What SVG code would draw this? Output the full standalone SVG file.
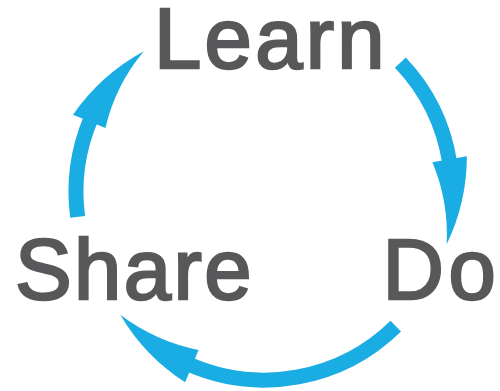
<svg xmlns="http://www.w3.org/2000/svg" width="500" height="391" viewBox="0 0 500 391">
<style>
.lbl{font-family:"Liberation Sans",Arial,Helvetica,sans-serif;font-size:85px;fill:#58585a;stroke:#58585a;stroke-width:2.5;stroke-linejoin:miter}
.shaft{fill:none;stroke:#19ade3;stroke-width:15;stroke-linecap:butt}
.head{fill:#19ade3;stroke:none}
</style>
<rect width="500" height="391" fill="#ffffff"/>
<g id="connectors">
  <g id="share-to-learn">
    <path class="shaft" d="M77.65 216.87 A188 188 0 0 1 90.95 118.54"/>
    <path class="head" d="M73.0 114.83 Q100.87 74.57 143.85 51.32 Q115.48 85.08 105.45 127.94 Z"/>
  </g>
  <g id="learn-to-do">
    <path class="shaft" d="M400.37 62.59 A188 188 0 0 1 449.69 162.59"/>
    <path class="head" d="M466.87 156.23 Q466.82 202.63 446.64 244.37 Q448.85 201.69 432.40 162.31 Z"/>
  </g>
  <g id="do-to-share">
    <path class="shaft" d="M395.77 326.09 A188 188 0 0 1 189.03 364.41"/>
    <path class="head" d="M185.17 382.32 Q144.62 356.31 120.28 314.75 Q155.49 341.35 198.56 349.98 Z"/>
  </g>
</g>
<g id="learn"><text class="lbl" x="154" y="67.75" letter-spacing="3.3">Learn</text></g>
<g id="do"><text class="lbl" x="382.5" y="299" letter-spacing="4.5">Do</text></g>
<g id="share"><text class="lbl" x="15" y="299" letter-spacing="2.4">Share</text></g>
</svg>
